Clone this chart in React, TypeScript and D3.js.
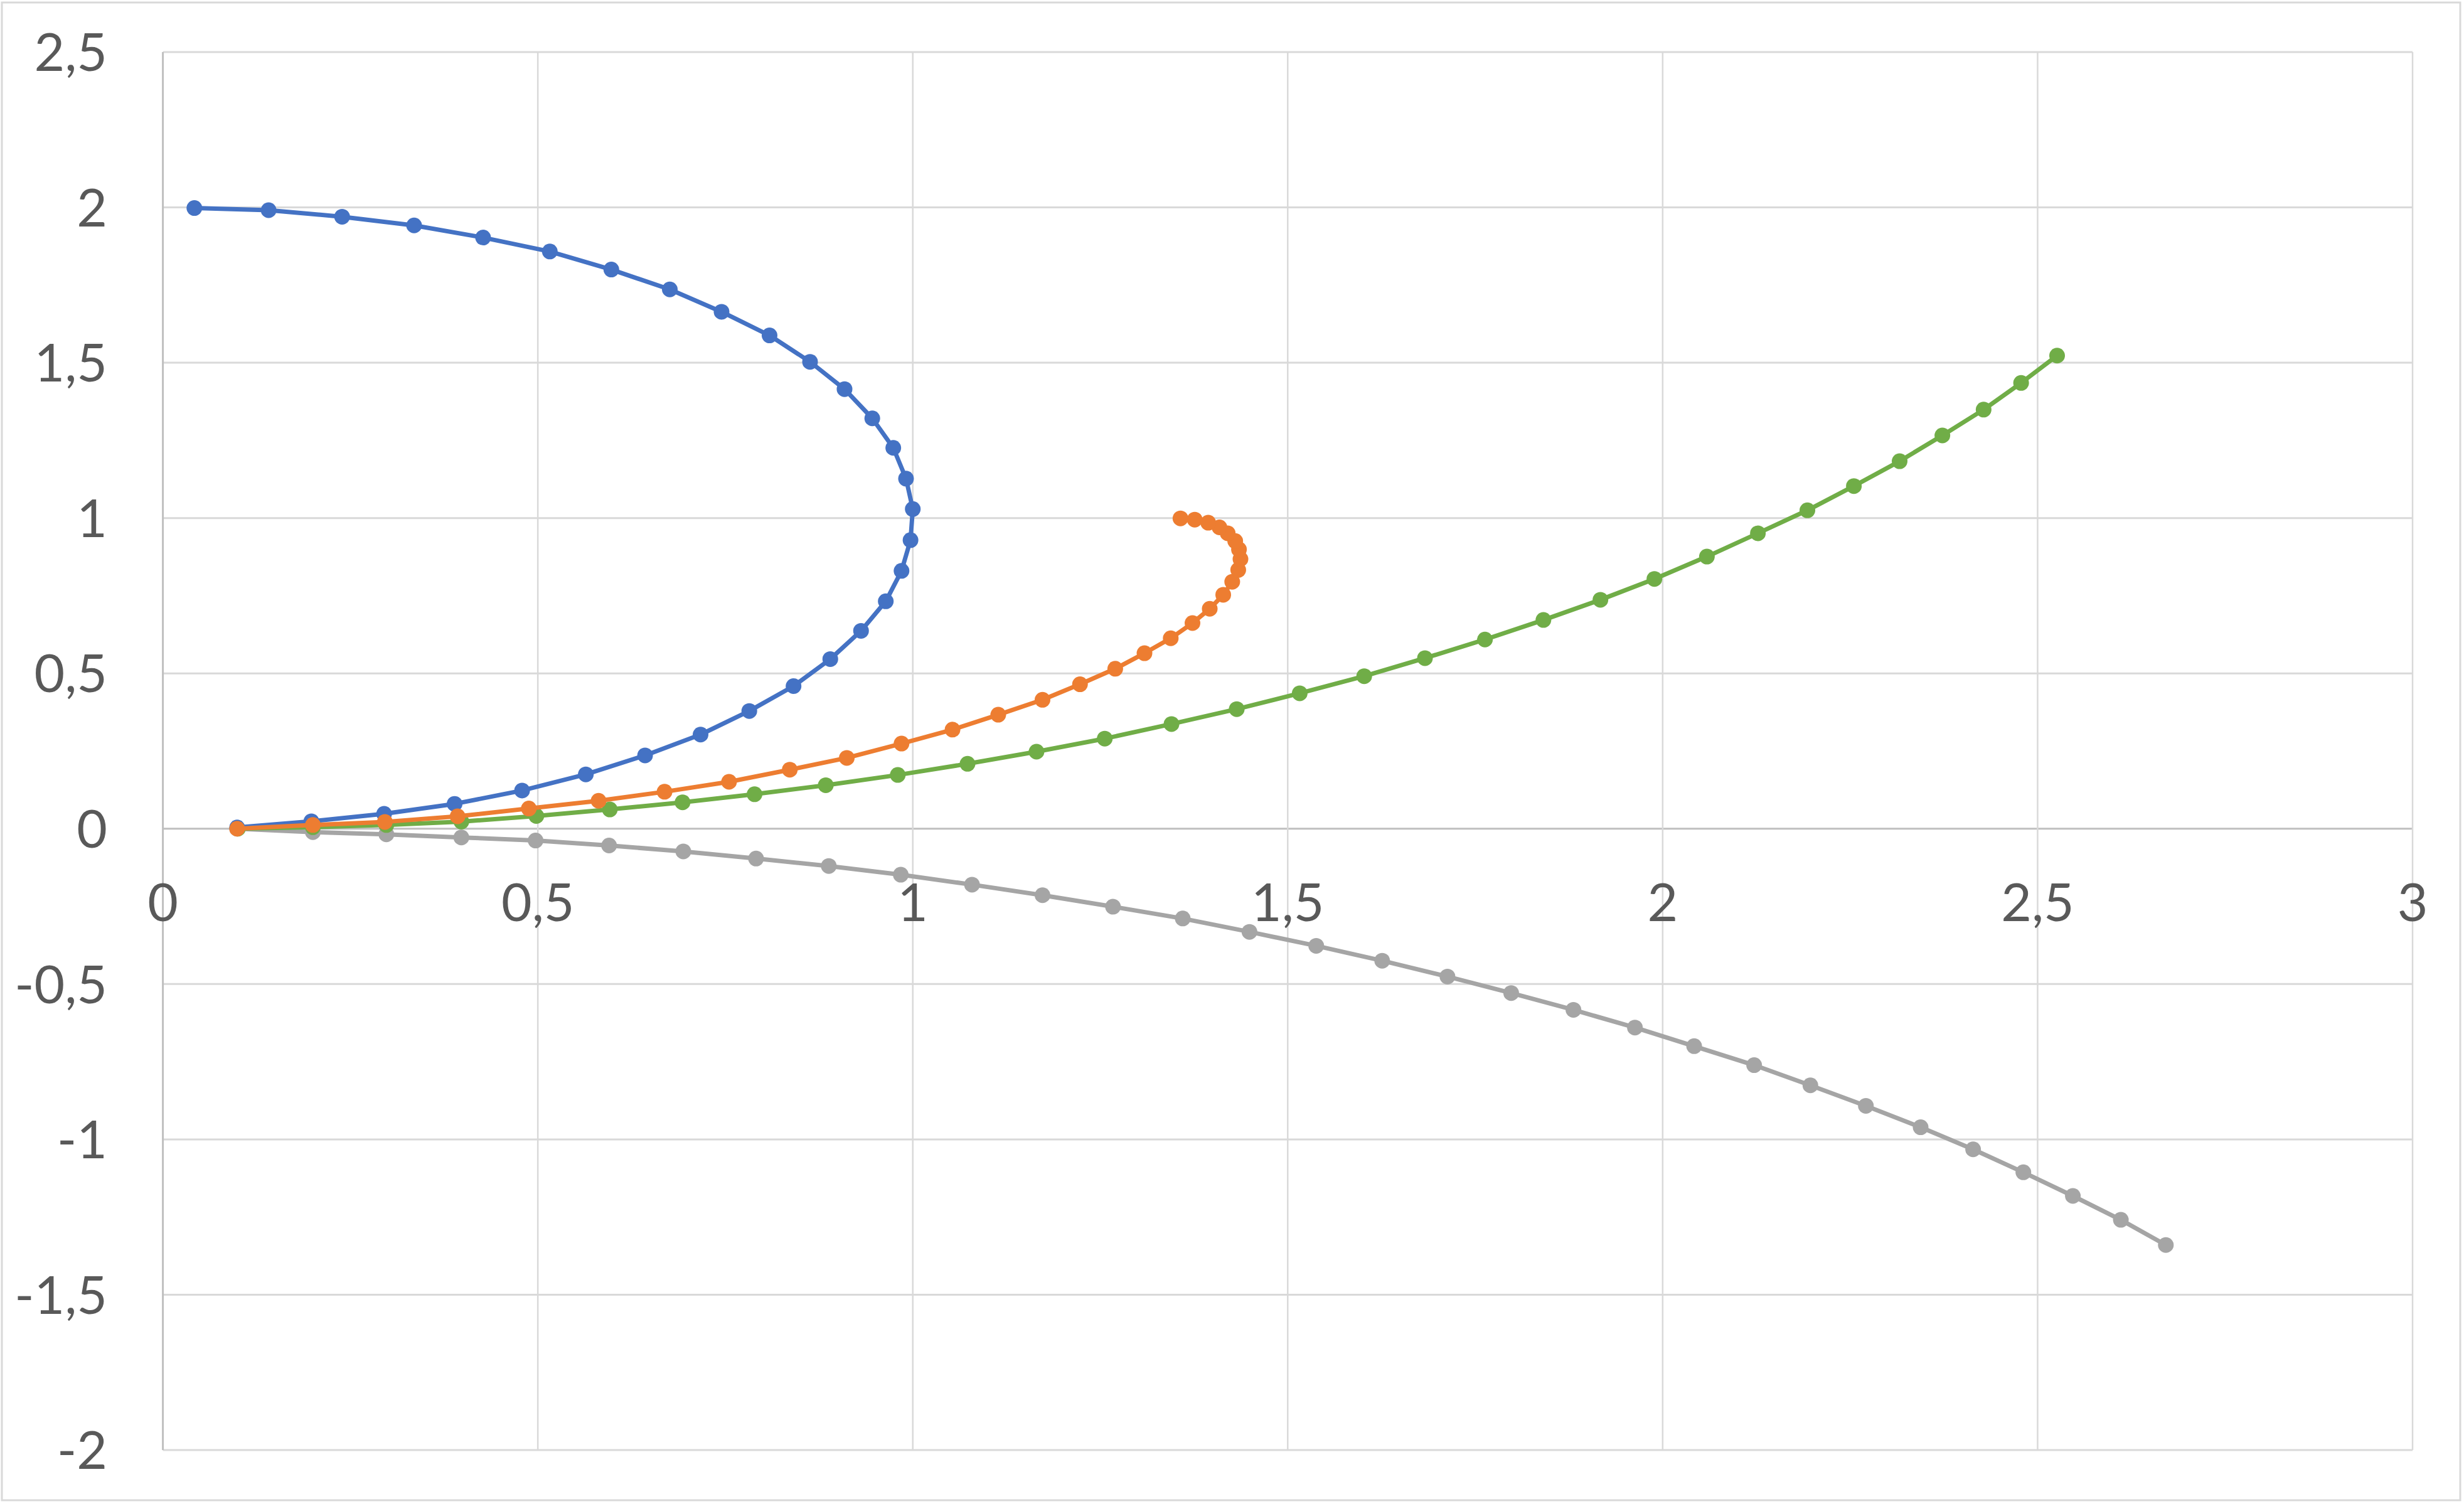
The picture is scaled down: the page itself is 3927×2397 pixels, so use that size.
import React from "react";
import * as d3 from "d3";

// ---- data ----
const blueX = [0.099, 0.198, 0.295, 0.389, 0.479, 0.564, 0.643, 0.717, 0.782, 0.841, 0.890, 0.931, 0.964, 0.985, 0.997, 1.000, 0.991, 0.974, 0.946, 0.909, 0.863, 0.809, 0.745, 0.676, 0.598, 0.516, 0.427, 0.335, 0.239, 0.141, 0.042];
const blueY = [0.004, 0.024, 0.048, 0.080, 0.123, 0.175, 0.236, 0.303, 0.379, 0.459, 0.546, 0.637, 0.732, 0.830, 0.929, 1.029, 1.127, 1.226, 1.321, 1.415, 1.503, 1.588, 1.664, 1.736, 1.800, 1.858, 1.903, 1.942, 1.970, 1.991, 1.998];

const orangeX = [0.099, 0.200, 0.296, 0.393, 0.488, 0.581, 0.669, 0.755, 0.836, 0.912, 0.985, 1.053, 1.114, 1.173, 1.223, 1.270, 1.309, 1.344, 1.373, 1.396, 1.414, 1.426, 1.434, 1.437, 1.435, 1.430, 1.420, 1.409, 1.394, 1.376, 1.357];
const orangeY = [0.0, 0.012, 0.022, 0.040, 0.065, 0.090, 0.119, 0.151, 0.190, 0.228, 0.274, 0.319, 0.367, 0.415, 0.465, 0.515, 0.565, 0.613, 0.662, 0.708, 0.753, 0.795, 0.833, 0.868, 0.899, 0.926, 0.951, 0.970, 0.985, 0.995, 0.999];

const grayX = [0.099, 0.200, 0.298, 0.398, 0.497, 0.595, 0.694, 0.791, 0.888, 0.984, 1.079, 1.173, 1.267, 1.360, 1.449, 1.538, 1.626, 1.713, 1.798, 1.881, 1.963, 2.042, 2.122, 2.197, 2.271, 2.344, 2.414, 2.481, 2.547, 2.611, 2.671];
const grayY = [0.0, -0.011, -0.018, -0.028, -0.038, -0.054, -0.073, -0.096, -0.120, -0.148, -0.180, -0.214, -0.251, -0.289, -0.332, -0.377, -0.425, -0.476, -0.529, -0.583, -0.640, -0.700, -0.761, -0.826, -0.892, -0.961, -1.032, -1.106, -1.182, -1.259, -1.340];

const greenX = [0.100, 0.200, 0.298, 0.398, 0.498, 0.596, 0.693, 0.789, 0.884, 0.980, 1.073, 1.165, 1.256, 1.345, 1.432, 1.516, 1.602, 1.683, 1.763, 1.841, 1.917, 1.989, 2.059, 2.127, 2.193, 2.255, 2.316, 2.373, 2.428, 2.478, 2.526];
const greenY = [0.0, 0.005, 0.012, 0.023, 0.041, 0.062, 0.085, 0.111, 0.140, 0.173, 0.209, 0.248, 0.290, 0.337, 0.385, 0.436, 0.491, 0.549, 0.609, 0.672, 0.737, 0.804, 0.876, 0.951, 1.025, 1.103, 1.183, 1.266, 1.349, 1.435, 1.523];

const xTicks = [0, 0.5, 1, 1.5, 2, 2.5, 3];
const yTicks = [-2, -1.5, -1, -0.5, 0, 0.5, 1, 1.5, 2, 2.5];

const seriesOrder = [
  { name: "gray", xs: grayX, ys: grayY, color: "#A5A5A5" },
  { name: "green", xs: greenX, ys: greenY, color: "#70AD47" },
  { name: "blue", xs: blueX, ys: blueY, color: "#4472C4" },
  { name: "orange", xs: orangeX, ys: orangeY, color: "#ED7D31" },
];

const W = 3927;
const H = 2397;
const PL = 259.6, PR = 3845, PT = 83, PB = 2311;

const fmt = (v: number) => String(v).replace(".", ",");

export default function App() {
  const x = d3.scaleLinear().domain([0, 3]).range([PL, PR]);
  const y = d3.scaleLinear().domain([-2, 2.5]).range([PB, PT]);
  const line = d3.line<[number, number]>().x((d) => x(d[0])).y((d) => y(d[1]));

  return (
    <svg
      width={W}
      height={H}
      style={{ position: "absolute", left: 0, top: 0, background: "#fff" }}
      fontFamily="Lato, 'Open Sans', sans-serif"
    >
      <rect x={0} y={0} width={W} height={H} fill="#fff" />
      <rect x={3} y={4} width={3918} height={2387} fill="none" stroke="#d9d9d9" strokeWidth={3} />
      {/* gridlines */}
      {yTicks.map((t) => (
        <line key={"gy" + t} x1={PL} x2={PR} y1={y(t)} y2={y(t)} stroke={t === 0 ? "#bfbfbf" : "#d9d9d9"} strokeWidth={3} />
      ))}
      {xTicks.map((t) => (
        <line key={"gx" + t} x1={x(t)} x2={x(t)} y1={PT} y2={PB} stroke={t === 0 ? "#bfbfbf" : "#d9d9d9"} strokeWidth={t === 0 ? 3 : 2.5} />
      ))}
      {/* tick labels */}
      {yTicks.map((t) => (
        <text key={"ly" + t} x={171} y={y(t)} dy="0.36em" textAnchor="end" fontSize={84} fill="#595959">
          {fmt(t)}
        </text>
      ))}
      {xTicks.map((t) => (
        <text key={"lx" + t} x={x(t)} y={y(0) + 147} textAnchor="middle" fontSize={84} fill="#595959">
          {fmt(t)}
        </text>
      ))}
      {/* series */}
      {seriesOrder.map((s) => {
        const pts: [number, number][] = s.xs.map((v, i) => [v, s.ys[i]]);
        return (
          <g key={s.name}>
            <path d={line(pts) || ""} fill="none" stroke={s.color} strokeWidth={7} strokeLinejoin="round" />
            {pts.map((p, i) => (
              <circle key={i} cx={x(p[0])} cy={y(p[1])} r={12.5} fill={s.color} />
            ))}
          </g>
        );
      })}
    </svg>
  );
}
